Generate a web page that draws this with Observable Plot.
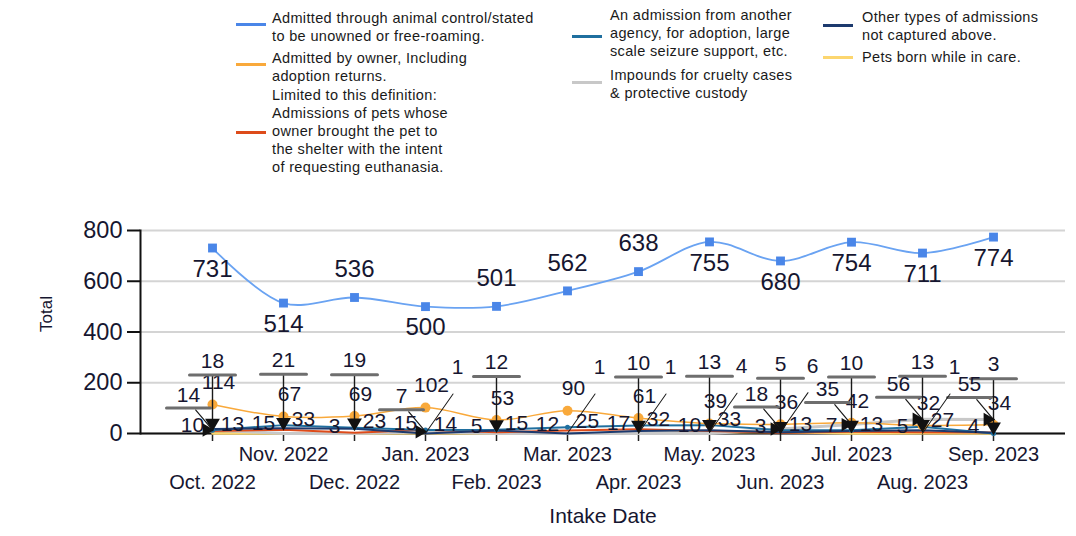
<!DOCTYPE html>
<html><head><meta charset="utf-8">
<script src="https://cdn.jsdelivr.net/npm/d3@7"></script>
<script src="https://cdn.jsdelivr.net/npm/@observablehq/plot@0.6"></script>
<style>
body{margin:0;background:#fff;font-family:"Liberation Sans",Arial,sans-serif;color:#1a1a1a}
#wrap{position:relative;width:1076px;height:536px;overflow:hidden}
#legend{position:absolute;left:0;top:0;width:1076px;height:195px}
.item{position:absolute;font-size:14.5px;letter-spacing:0.35px;line-height:18px;white-space:nowrap;color:#1a1a1a}
.sw{position:absolute;height:3px;width:30px}
#chart{position:absolute;left:0;top:195px}
</style></head><body>
<div id="wrap"><div id="legend"></div><div id="chart"></div></div>
<script>
// ---- data ----
const months = ["Oct. 2022","Nov. 2022","Dec. 2022","Jan. 2023","Feb. 2023","Mar. 2023",
                "Apr. 2023","May. 2023","Jun. 2023","Jul. 2023","Aug. 2023","Sep. 2023"];
const animalControl   = [731,514,536,500,501,562,638,755,680,754,711,774];
const ownerSurrender  = [114,67,69,102,53,90,61,39,36,42,32,34];
const euthanasiaReq   = [10,15,3,15,5,12,17,10,3,7,5,4];
const agencyTransfer  = [13,33,23,14,15,25,32,33,13,13,27,0];
const crueltyImpound  = [14,0,0,7,0,0,0,0,18,35,56,55];
const otherTypes      = [18,21,19,0,12,0,10,13,5,10,13,3];
const bornInCare      = [0,0,0,1,0,1,1,4,6,0,1,0];
const yTicks = [0,200,400,600,800];
const legendNames = [
  "Admitted through animal control/stated\nto be unowned or free-roaming.",
  "Admitted by owner, Including\nadoption returns.",
  "Limited to this definition:\nAdmissions of pets whose\nowner brought the pet to\nthe shelter with the intent\nof requesting euthanasia.",
  "An admission from another\nagency, for adoption, large\nscale seizure support, etc.",
  "Impounds for cruelty cases\n& protective custody",
  "Other types of admissions\nnot captured above.",
  "Pets born while in care."
];
const colors = ["#4a86e8","#f9a93b","#dd4b1a","#1f6f9f","#c8c8c8","#1d3a6e","#fcd66f"];
// blue label side (layout)
const blueSide = ["below","below","above","below","above","above","above","below","below","below","below","below"];

// ---- legend ----
const legendLayout = [
  {sx:236, sy:24, tx:272, ty:9},
  {sx:236, sy:64, tx:272, ty:49},
  {sx:236, sy:132, tx:272, ty:86},
  {sx:572, sy:36, tx:610, ty:6},
  {sx:572, sy:82, tx:610, ty:66},
  {sx:823, sy:25, tx:862, ty:8},
  {sx:823, sy:57, tx:862, ty:48}
];
const leg = document.getElementById("legend");
legendNames.forEach((name, i) => {
  const L = legendLayout[i];
  const sw = document.createElement("div");
  sw.className = "sw";
  sw.style.left = L.sx + "px"; sw.style.top = (L.sy - 1.5) + "px";
  sw.style.background = colors[i];
  leg.appendChild(sw);
  const t = document.createElement("div");
  t.className = "item";
  t.style.left = L.tx + "px"; t.style.top = L.ty + "px";
  t.innerHTML = name.split("\n").join("<br>");
  leg.appendChild(t);
});

// ---- chart ----
const mk = vals => months.map((m, i) => ({month: m, value: vals[i], i}));
const blue = mk(animalControl), orange = mk(ownerSurrender), red = mk(euthanasiaReq),
      teal = mk(agencyTransfer), gray = mk(crueltyImpound), navy = mk(otherTypes),
      yellow = mk(bornInCare);
const nz = arr => arr.filter(d => d.value > 0);
const labelFont = 21;
const txt = "#161630";

const chart = Plot.plot({
  width: 1076, height: 341,
  marginTop: 35, marginBottom: 103, marginLeft: 140, marginRight: 11,
  x: {type: "point", domain: months, padding: 1, axis: null},
  y: {domain: [0, 800], axis: null},
  style: {fontFamily: "'Liberation Sans', Arial, sans-serif", color: "#1a1a1a", background: "transparent"},
  marks: [
    Plot.gridY(yTicks, {stroke: "#d4d4d4", strokeOpacity: 1, strokeWidth: 2}),
    Plot.frame({anchor: "left", stroke: "#111", strokeWidth: 2}),
    Plot.axisY(yTicks, {tickSize: 13, tickPadding: 5, fontSize: 23.5, label: null, stroke: "#111", strokeWidth: 2, color: txt}),
    Plot.axisX(months, {tickSize: 8, tickFormat: () => "", label: null, stroke: "#222", strokeWidth: 1.5}),
    Plot.ruleY([0], {stroke: "#111", strokeWidth: 2}),
    // month labels in two rows
    Plot.text(months.filter((_, i) => i % 2 === 1), {x: d => d, frameAnchor: "bottom", dy: 27, fontSize: 20, letterSpacing: 0.5, fill: txt}),
    Plot.text(months.filter((_, i) => i % 2 === 0), {x: d => d, frameAnchor: "bottom", dy: 55, fontSize: 20, letterSpacing: 0.5, fill: txt}),
    Plot.text(["Intake Date"], {frameAnchor: "bottom", dy: 89, fontSize: 21, letterSpacing: 0.6, fill: txt}),
    Plot.text(["Total"], {frameAnchor: "left", dx: -94, rotate: -90, fontSize: 17, fill: txt}),
    // small series lines
    Plot.line(yellow, {x: "month", y: "value", stroke: colors[6], strokeWidth: 2.5}),
    Plot.line(gray, {x: "month", y: "value", stroke: colors[4], strokeWidth: 3}),
    Plot.line(red, {x: "month", y: "value", stroke: colors[2], strokeWidth: 2}),
    Plot.line(teal, {x: "month", y: "value", stroke: colors[3], strokeWidth: 2}),
    Plot.line(navy, {x: "month", y: "value", stroke: colors[5], strokeWidth: 2}),
    Plot.dot(teal, {x: "month", y: "value", r: 2.5, fill: colors[3]}),
    // orange series
    Plot.line(orange, {x: "month", y: "value", stroke: colors[1], strokeWidth: 1.5, curve: "catmull-rom"}),
    Plot.dot(orange, {x: "month", y: "value", r: 5, fill: colors[1]}),
    // blue series
    Plot.line(blue, {x: "month", y: "value", stroke: "#6aa3f2", strokeWidth: 1.8, curve: "catmull-rom"}),
    Plot.dot(blue, {x: "month", y: "value", symbol: "square", r: 5, fill: colors[0]}),
    Plot.text(blue.filter(d => blueSide[d.i] === "below"), {x: "month", y: "value", text: "value", dy: 21, fontSize: 24, fill: txt}),
    Plot.text(blue.filter(d => blueSide[d.i] === "above"), {x: "month", y: "value", text: "value", dy: -28, fontSize: 24, fill: txt}),
    // orange labels
    Plot.text(orange, {x: "month", y: "value", text: "value", dy: -22, dx: 6, fontSize: labelFont, fill: txt}),
    // navy labels with leaders
    Plot.vector(nz(navy), {x: "month", y: "value", length: 54, rotate: 180, anchor: "end", r: 0, stroke: "#1a1a1a", strokeWidth: 1.4}),
    Plot.vector(nz(navy), {x: "month", y: "value", length: 46, rotate: 90, anchor: "middle", r: 0, dy: -54, stroke: "#6e6e6e", strokeWidth: 3}),
    Plot.dot(nz(navy), {x: "month", y: "value", symbol: "triangle", rotate: 180, r: 5.5, fill: "#111", dy: -6}),
    Plot.text(nz(navy), {x: "month", y: "value", text: "value", dy: -68, fontSize: labelFont, fill: txt}),
    // gray labels with underline leaders
    Plot.vector(nz(gray), {x: "month", y: "value", length: 44, rotate: 90, anchor: "middle", r: 0, dy: -22, dx: -24, stroke: "#6e6e6e", strokeWidth: 3}),
    Plot.vector(nz(gray), {x: "month", y: "value", length: 26, rotate: 140, anchor: "end", r: 0, stroke: "#1a1a1a", strokeWidth: 1.2}),
    Plot.dot(nz(gray), {x: "month", y: "value", symbol: "triangle", rotate: 90, r: 5, fill: "#111", dx: -6}),
    Plot.text(nz(gray), {x: "month", y: "value", text: "value", dy: -35, dx: -24, fontSize: labelFont, fill: txt}),
    // baseline labels
    Plot.text(nz(teal), {x: "month", y: "value", text: "value", dx: 20, dy: -6, fontSize: labelFont, fill: txt}),
    Plot.text(nz(red), {x: "month", y: "value", text: "value", dx: -20, dy: -6, fontSize: labelFont, fill: txt}),
    // born-in-care labels with short leaders
    Plot.vector(nz(yellow), {x: "month", y: "value", length: 48, rotate: 35, anchor: "start", r: 0, stroke: "#1a1a1a", strokeWidth: 1}),
    Plot.text(nz(yellow), {x: "month", y: "value", text: "value", dx: 32, dy: -66, fontSize: labelFont, fill: txt})
  ]
});
document.getElementById("chart").appendChild(chart);
</script>
</body></html>
